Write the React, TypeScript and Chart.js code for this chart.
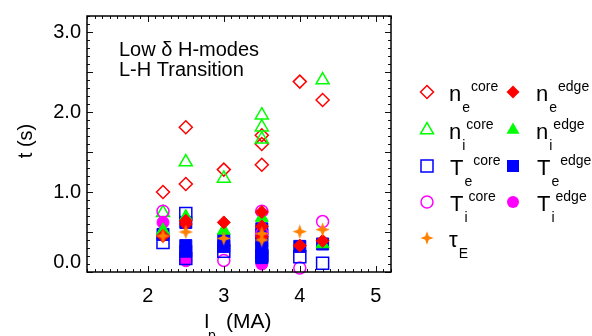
import React, { useEffect, useRef } from "react";
import { Chart, registerables } from "chart.js";
Chart.register(...registerables);

// ---- axis ticks ----
const xTickValues = [2, 3, 4, 5];
const yTickValues = [0, 0.5, 1.0, 1.5, 2.0, 2.5, 3.0];
const xRange = [1.2, 5.2];
const yRange = [0, 3.2];

// ---- data (Ip in MA, t in s) ----
const neCoreX = [2.2, 2.5, 2.5, 3.0, 3.5, 3.5, 3.5, 4.0, 4.3];
const neCoreY = [1.0, 1.81, 1.1, 1.28, 1.71, 1.6, 1.34, 2.38, 2.15];

const niCoreX = [2.2, 2.5, 3.0, 3.5, 3.5, 3.5, 4.3];
const niCoreY = [0.74, 1.375, 1.17, 1.96, 1.81, 1.66, 2.4];

const teCoreX = [2.2, 2.5, 2.5, 3.0, 3.5, 4.0, 4.3];
const teCoreY = [0.37, 0.73, 0.17, 0.26, 0.2, 0.19, 0.11];

const tiCoreX = [2.2, 3.0, 3.5, 3.5, 4.0, 4.3];
const tiCoreY = [0.76, 0.145, 0.76, 0.48, 0.05, 0.63];

const neEdgeX = [2.2, 2.5, 2.5, 3.0, 3.5, 3.5, 3.5, 4.0, 4.3];
const neEdgeY = [0.45, 0.64, 0.6, 0.62, 0.75, 0.57, 0.44, 0.33, 0.39];

const niEdgeX = [2.2, 2.5, 3.0, 3.5, 4.3];
const niEdgeY = [0.52, 0.69, 0.52, 0.68, 0.35];

const teEdgeX = [2.2, 2.5, 2.5, 2.5, 3.0, 3.0, 3.5, 3.5, 3.5, 3.5, 3.5, 3.5, 4.0, 4.3];
const teEdgeY = [0.47, 0.62, 0.33, 0.26, 0.4, 0.32, 0.54, 0.46, 0.38, 0.3, 0.22, 0.18, 0.32, 0.35];

const tiEdgeX = [2.2, 2.5, 3.5, 3.5];
const tiEdgeY = [0.62, 0.14, 0.15, 0.1];

const tauX = [2.2, 2.5, 3.0, 3.5, 3.5, 4.0, 4.3];
const tauY = [0.45, 0.5, 0.42, 0.48, 0.4, 0.505, 0.53];

const RED = "#ff0000";
const GREEN = "#00ff00";
const BLUE = "#0000ff";
const MAGENTA = "#ff00ff";
const ORANGE = "#ff7f00";
const FONT = "'Liberation Sans', Arial, Helvetica, sans-serif";

const pts = (xs: number[], ys: number[]) => xs.map((x, i) => ({ x, y: ys[i] }));

function makeStar(color: string, size: number) {
  const c = document.createElement("canvas");
  c.width = size;
  c.height = size;
  const g = c.getContext("2d")!;
  const cx = size / 2, cy = size / 2, R = size / 2 - 0.3, r = size * 0.18;
  g.beginPath();
  for (let k = 0; k < 8; k++) {
    const a = -Math.PI / 2 + (k * Math.PI) / 4;
    const rad = k % 2 === 0 ? R : r;
    const px = cx + rad * Math.cos(a), py = cy + rad * Math.sin(a);
    if (k === 0) g.moveTo(px, py);
    else g.lineTo(px, py);
  }
  g.closePath();
  g.fillStyle = color;
  g.fill();
  return c;
}

function marker(ctx: CanvasRenderingContext2D, kind: string, x: number, y: number, color: string, filled: boolean, star?: HTMLCanvasElement) {
  ctx.save();
  ctx.strokeStyle = color;
  ctx.fillStyle = color;
  ctx.lineWidth = 1.5;
  ctx.beginPath();
  if (kind === "diamond") {
    const r = 6.5;
    ctx.moveTo(x, y - r); ctx.lineTo(x + r, y); ctx.lineTo(x, y + r); ctx.lineTo(x - r, y); ctx.closePath();
  } else if (kind === "triangle") {
    const r = 7.5;
    ctx.moveTo(x, y - r);
    ctx.lineTo(x + r * Math.sin((2 * Math.PI) / 3), y + r * 0.5);
    ctx.lineTo(x - r * Math.sin((2 * Math.PI) / 3), y + r * 0.5);
    ctx.closePath();
  } else if (kind === "square") {
    ctx.rect(x - 6, y - 6, 12, 12);
  } else if (kind === "circle") {
    ctx.arc(x, y, 6, 0, Math.PI * 2);
  } else if (kind === "star" && star) {
    ctx.drawImage(star, x - star.width / 2, y - star.height / 2);
    ctx.restore();
    return;
  }
  if (filled) ctx.fill();
  else ctx.stroke();
  ctx.restore();
}

function symText(ctx: CanvasRenderingContext2D, x: number, base: number, main: string, sub: string, sup: string) {
  ctx.fillStyle = "#000";
  ctx.textAlign = "left";
  ctx.textBaseline = "alphabetic";
  ctx.font = `22px ${FONT}`;
  ctx.fillText(main, x, base);
  const w = ctx.measureText(main).width;
  ctx.font = `14px ${FONT}`;
  ctx.fillText(sub, x + w + 1, base + 11);
  const ws = ctx.measureText(sub).width;
  if (sup) ctx.fillText(sup, x + w + 1 + ws + 1, base - 10);
}

export default function App() {
  const ref = useRef<HTMLCanvasElement | null>(null);
  useEffect(() => {
    document.body.style.margin = "0";
    const star = makeStar(ORANGE, 15);
    const legendStar = makeStar(ORANGE, 14);

    const decor = {
      id: "decor",
      afterDraw(chart: any) {
        const { ctx, chartArea: a } = chart;
        const xs = chart.scales.x;
        const ys = chart.scales.y;
        ctx.save();
        ctx.strokeStyle = "#111";
        ctx.lineWidth = 1;
        // x ticks (minor every 0.1, major at integers), inward on bottom & top
        const nx = Math.round((xs.max - xs.min) * 10);
        for (let i = 0; i <= nx; i++) {
          const v = xs.min + i / 10;
          const major = Math.abs(v - Math.round(v)) < 1e-6;
          const len = major ? 6 : 3;
          const px = Math.round(xs.getPixelForValue(v)) + 0.5;
          ctx.beginPath();
          ctx.moveTo(px, a.bottom); ctx.lineTo(px, a.bottom - len);
          ctx.moveTo(px, a.top); ctx.lineTo(px, a.top + len);
          ctx.stroke();
        }
        const ny = Math.round((ys.max - ys.min) * 10);
        for (let i = 0; i <= ny; i++) {
          const v = ys.min + i / 10;
          const major = Math.abs(v * 2 - Math.round(v * 2)) < 1e-6;
          const len = major ? 6 : 3;
          const py = Math.round(ys.getPixelForValue(v)) + 0.5;
          ctx.beginPath();
          ctx.moveTo(a.left, py); ctx.lineTo(a.left + len, py);
          ctx.moveTo(a.right, py); ctx.lineTo(a.right - len, py);
          ctx.stroke();
        }
        // frame
        ctx.strokeStyle = "#000";
        ctx.lineWidth = 1.5;
        ctx.strokeRect(a.left, a.top, a.right - a.left, a.bottom - a.top);

        // annotation
        ctx.fillStyle = "#000";
        ctx.font = `20px ${FONT}`;
        ctx.textAlign = "left";
        ctx.textBaseline = "alphabetic";
        ctx.fillText("Low \u03b4 H-modes", 119, 56);
        ctx.fillText("L-H Transition", 119, 76);

        // axis titles
        ctx.font = `20px ${FONT}`;
        ctx.save();
        ctx.translate(32, 141);
        ctx.rotate(-Math.PI / 2);
        ctx.textAlign = "center";
        ctx.fillText("t (s)", 0, 0);
        ctx.restore();
        ctx.textAlign = "left";
        ctx.font = `20px ${FONT}`;
        ctx.fillText("I", 204, 328);
        ctx.font = `14px ${FONT}`;
        ctx.fillText("p", 208, 340);
        ctx.font = `21px ${FONT}`;
        ctx.fillText("(MA)", 226, 328);

        // legend
        const c1 = 427, c2 = 513;
        const rows = [92, 130, 166, 202, 238];
        marker(ctx, "diamond", c1, rows[0], RED, false);
        symText(ctx, 449, rows[0] + 9, "n", "e", "core");
        marker(ctx, "diamond", c2, rows[0], RED, true);
        symText(ctx, 536, rows[0] + 9, "n", "e", "edge");
        marker(ctx, "triangle", c1, rows[1], GREEN, false);
        symText(ctx, 449, rows[1] + 9, "n", "i", "core");
        marker(ctx, "triangle", c2, rows[1], GREEN, true);
        symText(ctx, 536, rows[1] + 9, "n", "i", "edge");
        marker(ctx, "square", c1, rows[2], BLUE, false);
        symText(ctx, 450, rows[2] + 9, "T", "e", "core");
        marker(ctx, "square", c2, rows[2], BLUE, true);
        symText(ctx, 537, rows[2] + 9, "T", "e", "edge");
        marker(ctx, "circle", c1, rows[3], MAGENTA, false);
        symText(ctx, 450, rows[3] + 9, "T", "i", "core");
        marker(ctx, "circle", c2, rows[3], MAGENTA, true);
        symText(ctx, 537, rows[3] + 9, "T", "i", "edge");
        marker(ctx, "star", c1, rows[4], ORANGE, true, legendStar);
        symText(ctx, 449, rows[4] + 9, "\u03c4", "E", "");
        ctx.restore();
      },
    };

    const open = (color: string) => ({ borderColor: color, backgroundColor: "rgba(0,0,0,0)", borderWidth: 1.5 });
    const full = (color: string) => ({ borderColor: color, backgroundColor: color, borderWidth: 1 });

    const datasets: any[] = [
      { label: "tauE", data: pts(tauX, tauY), pointStyle: star, pointRadius: 7.5, order: 0, borderColor: ORANGE, backgroundColor: ORANGE },
      { label: "ne edge", data: pts(neEdgeX, neEdgeY), pointStyle: "rectRot", pointRadius: 6.5, order: 1, ...full(RED) },
      { label: "ni edge", data: pts(niEdgeX, niEdgeY), pointStyle: "triangle", pointRadius: 7.5, order: 2, ...full(GREEN) },
      { label: "Te core", data: pts(teCoreX, teCoreY), pointStyle: "rect", pointRadius: 8.5, order: 3, ...open(BLUE) },
      { label: "Ti core", data: pts(tiCoreX, tiCoreY), pointStyle: "circle", pointRadius: 6, order: 4, ...open(MAGENTA) },
      { label: "Te edge", data: pts(teEdgeX, teEdgeY), pointStyle: "rect", pointRadius: 8.5, order: 5, ...full(BLUE) },
      { label: "Ti edge", data: pts(tiEdgeX, tiEdgeY), pointStyle: "circle", pointRadius: 6, order: 6, ...full(MAGENTA) },
      { label: "ni core", data: pts(niCoreX, niCoreY), pointStyle: "triangle", pointRadius: 7.5, order: 7, ...open(GREEN) },
      { label: "ne core", data: pts(neCoreX, neCoreY), pointStyle: "rectRot", pointRadius: 6.5, order: 8, ...open(RED) },
    ].map((d) => ({ ...d, showLine: false, clip: false, pointHoverRadius: d.pointRadius }));

    const chart = new Chart(ref.current!, {
      type: "scatter",
      data: { datasets },
      options: {
        animation: false,
        responsive: false,
        devicePixelRatio: 1,
        events: [],
        layout: { padding: { left: 0, top: 14, right: 201, bottom: 0 } },
        plugins: { legend: { display: false }, tooltip: { enabled: false } },
        scales: {
          x: {
            type: "linear",
            min: xRange[0],
            max: xRange[1],
            grid: { display: false, drawTicks: false },
            border: { display: false },
            afterBuildTicks: (s: any) => { s.ticks = xTickValues.map((v) => ({ value: v })); },
            afterFit: (s: any) => { s.height = 64; },
            ticks: {
              color: "#000",
              font: { family: FONT, size: 20 },
              padding: 12,
              maxRotation: 0,
              callback: (v: any) => String(v),
            },
          },
          y: {
            type: "linear",
            min: yRange[0],
            max: yRange[1],
            grid: { display: false, drawTicks: false },
            border: { display: false },
            afterBuildTicks: (s: any) => { s.ticks = yTickValues.map((v) => ({ value: v })); },
            afterFit: (s: any) => { s.width = 87; },
            ticks: {
              color: "#000",
              font: { family: FONT, size: 20, lineHeight: 1.0 },
              padding: 6,
              callback: (v: any) => (Number(v) === 0 ? ["0.0", ""] : Number(v).toFixed(1)),
            },
          },
        },
      },
      plugins: [decor],
    });
    return () => chart.destroy();
  }, []);
  return (
    <div style={{ width: 592, height: 336, background: "#fff" }}>
      <canvas ref={ref} width={592} height={336} style={{ display: "block" }} />
    </div>
  );
}
